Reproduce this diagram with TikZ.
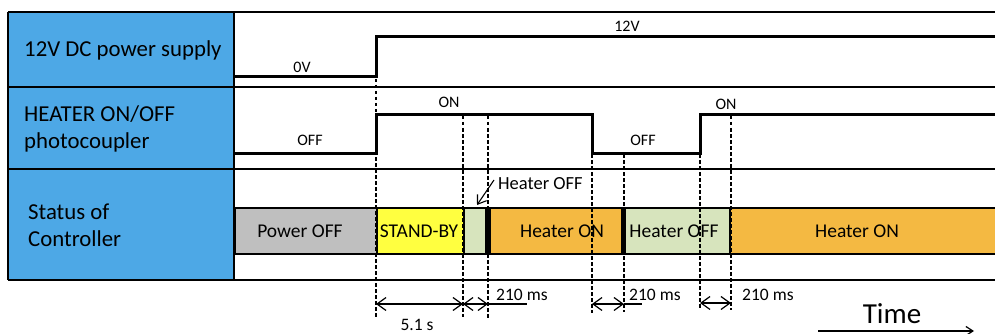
\documentclass[tikz,border=0pt]{standalone}
\usepackage{fontspec}
\setmainfont{Carlito}
\usetikzlibrary{arrows.meta}
\definecolor{cellblue}{HTML}{4DA8E6}
\definecolor{offgray}{HTML}{BFBFBF}
\definecolor{sbyellow}{HTML}{FFFF40}
\definecolor{offgreen}{HTML}{D7E4BD}
\definecolor{onorange}{HTML}{F4B942}
\begin{document}
\begin{tikzpicture}[x=1pt,y=-1pt,
  gridline/.style={line width=1.4pt},
  sig/.style={line width=3pt, line join=miter},
  guide/.style={dash pattern=on 3.5pt off 2.5pt, line width=1.1pt},
  dimarrow/.style={line width=1.2pt, {Straight Barb[length=9pt,width=13pt]}-{Straight Barb[length=9pt,width=13pt]}},
  bar/.style={draw, line width=2pt, minimum height=46pt, inner sep=0pt, anchor=west},
  rowlabel/.style={anchor=west, align=left, inner sep=0pt, font=\fontsize{22.8}{27}\selectfont},
  lvl/.style={inner sep=0pt, font=\fontsize{16}{18}\selectfont},
  bartext/.style={inner sep=0pt, font=\fontsize{19.5}{22}\selectfont},
  dimtext/.style={inner sep=0pt, font=\fontsize{17.5}{20}\selectfont}]
\useasboundingbox (0,0) rectangle (995,334);
% blue label cells
\fill[cellblue] (8,12) rectangle (234,280);
\draw[gridline] (8,12) -- (998,12);
\draw[gridline] (8,87) -- (998,87);
\draw[gridline] (8,169) -- (998,169);
\draw[gridline] (8,280) -- (998,280);
\draw[gridline] (8,12) -- (8,280);
\draw[gridline] (234,12) -- (234,280);
\node[rowlabel] (l1) at (24,50) {12V DC power supply};
\node[rowlabel] (l2) at (24,128.5) {HEATER ON/OFF\\photocoupler};
\node[rowlabel] (l3) at (28,225.5) {Status of\\Controller};
% status bars
\node[bar, fill=offgray, minimum width=142pt] (poff) at (234,231) {};
\node[bar, fill=sbyellow, minimum width=87pt] (sby) at (376,231) {};
\node[bar, fill=offgreen, minimum width=24pt] (hoff1) at (463,231) {};
\node[bar, fill=onorange, minimum width=134pt] (hon1) at (488,231) {};
\node[bar, fill=offgreen, minimum width=106pt] (hoff2) at (623,231) {};
\node[bar, fill=onorange, minimum width=272pt] (hon2) at (729,231) {};
\fill (485,207) rectangle (490.5,255);
\fill (621,207) rectangle (625.5,255);
\node[bartext] at (300,231) {Power OFF};
\node[bartext] at (419,231) {STAND-BY};
\node[bartext] at (562,231) {Heater ON};
\node[bartext] at (674,231) {Heater OFF};
\node[bartext] at (857,231) {Heater ON};
% signals
\coordinate (p0) at (234,77);
\coordinate (p1) at (376,77);
\coordinate (p2) at (376,37);
\coordinate (p3) at (998,37);
\draw[sig] (p0) -- (p1) -- (p2) -- (p3);
\coordinate (h0) at (234,153);
\coordinate (h1) at (376,153);
\coordinate (h2) at (376,115);
\coordinate (h3) at (592,115);
\coordinate (h4) at (592,153);
\coordinate (h5) at (700,153);
\coordinate (h6) at (700,115);
\coordinate (h7) at (998,115);
\draw[sig] (h0) -- (h1) -- (h2) -- (h3) -- (h4) -- (h5) -- (h6) -- (h7);
\node[lvl] at (302,67) {0V};
\node[lvl] at (627,26) {12V};
\node[lvl] at (310,140) {OFF};
\node[lvl] at (449,102) {ON};
\node[lvl] at (643,140) {OFF};
\node[lvl] at (726,104) {ON};
% guides
\coordinate (g1t) at (376,79);  \coordinate (g1b) at (376,318);
\coordinate (g2t) at (463,116); \coordinate (g2b) at (463,317);
\coordinate (g3t) at (488,116); \coordinate (g3b) at (488,319);
\coordinate (g4t) at (592,154); \coordinate (g4b) at (592,313);
\coordinate (g5t) at (624,154); \coordinate (g5b) at (624,312);
\coordinate (g6t) at (700,154); \coordinate (g6b) at (700,308);
\coordinate (g7t) at (731,116); \coordinate (g7b) at (731,310);
\foreach \g in {1,...,7} {\draw[guide] (g\g t) -- (g\g b);}
% dimension arrows
\coordinate (d1) at (376,304);
\coordinate (d2) at (463,304);
\coordinate (d3) at (488,304);
\coordinate (d3e) at (527,304);
\coordinate (d4) at (592,304);
\coordinate (d5) at (624,304);
\coordinate (d5e) at (642,304);
\coordinate (d6) at (700,303);
\coordinate (d7) at (731,303);
\draw[dimarrow] (d1) -- (d2);
\draw[dimarrow] (d2) -- (d3);
\draw[line width=1.2pt] (d3) -- (d3e);
\draw[dimarrow] (d4) -- (d5);
\draw[line width=1.2pt] (d5) -- (d5e);
\draw[dimarrow] (d6) -- (d7);
\node[dimtext] (t51) at (417,325) {5.1 s};
\node[dimtext, anchor=west] (t1) at (496,295) {210 ms};
\node[dimtext, anchor=west] (t2) at (629,295) {210 ms};
\node[dimtext, anchor=west] (t3) at (742,295) {210 ms};
% Heater OFF note
\node[inner sep=0pt, anchor=west, font=\fontsize{18.5}{21}\selectfont] (hnote) at (498,184) {Heater OFF};
\coordinate (na) at (494,180);
\coordinate (nb) at (477,205);
\draw[line width=1.1pt, -{Straight Barb[length=8pt,width=11pt]}] (na) -- (nb);
% Time
\node[inner sep=0pt, font=\fontsize{29}{32}\selectfont] (time) at (892,314) {Time};
\coordinate (ta) at (818,331);
\coordinate (tb) at (974,331);
\draw[line width=1.2pt, -{Straight Barb[length=7pt,width=9pt]}] (ta) -- (tb);
\end{tikzpicture}
\end{document}
